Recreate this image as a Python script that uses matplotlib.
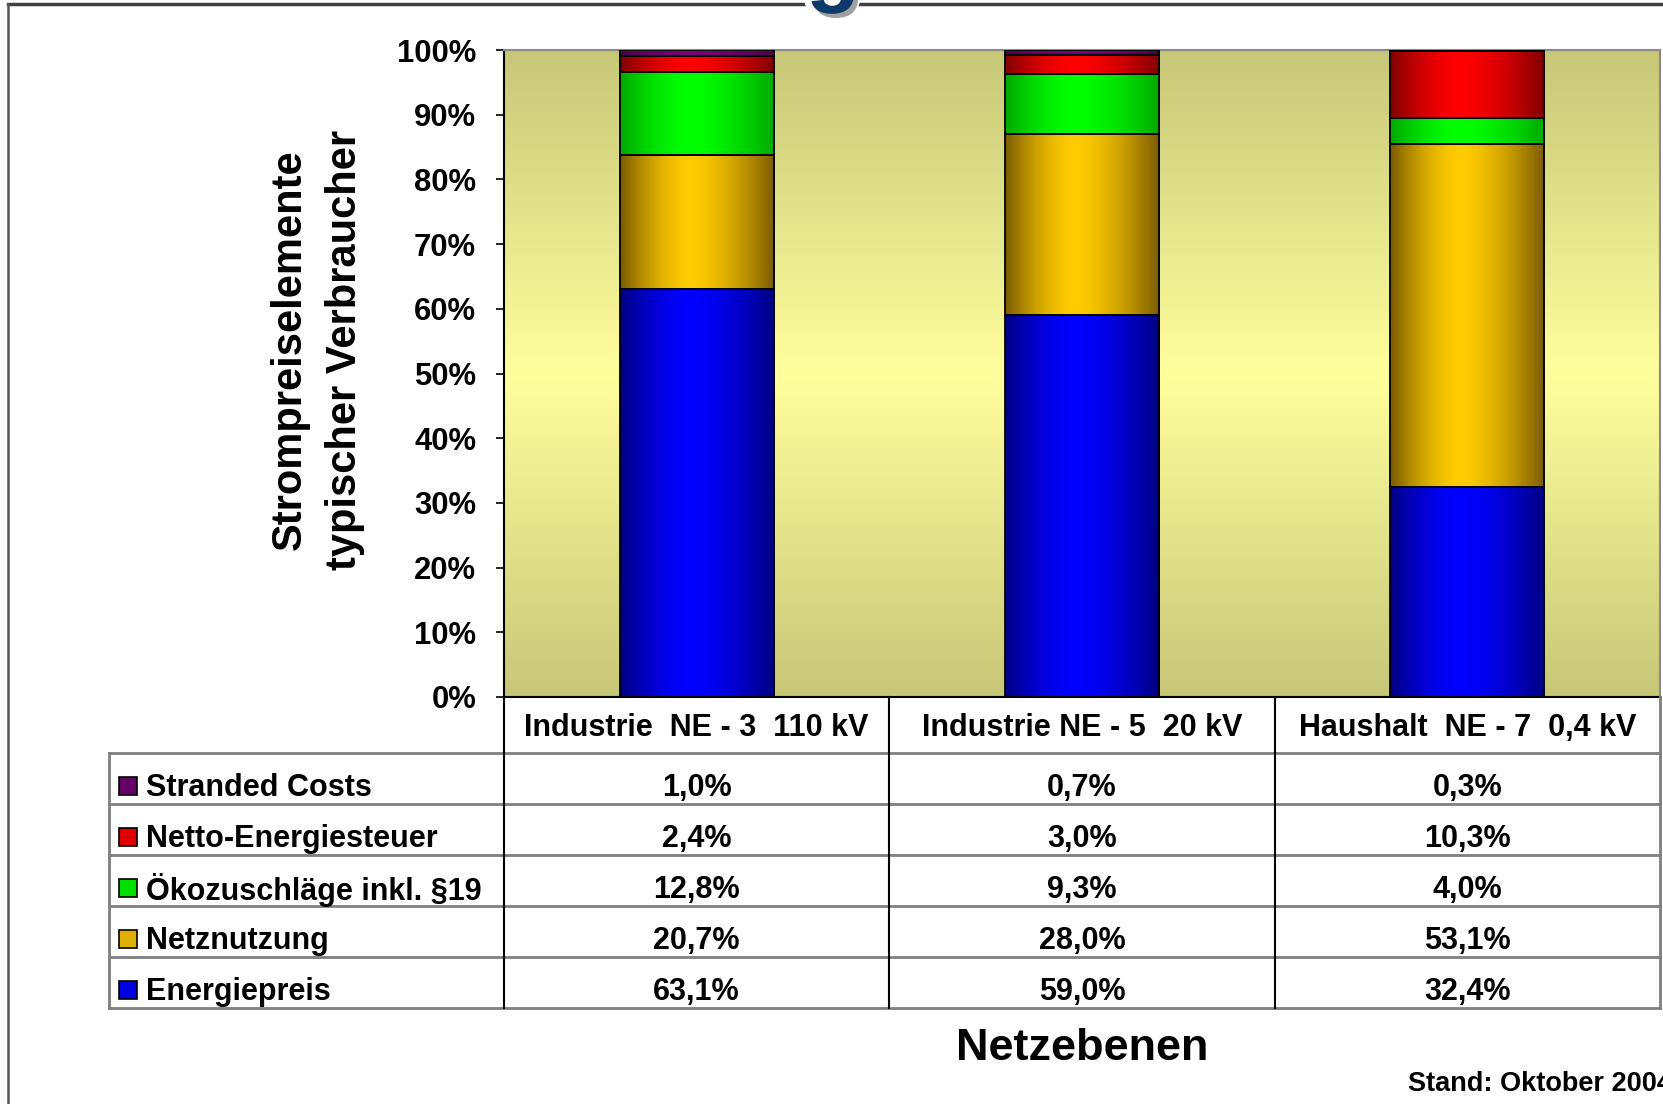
import numpy as np
import matplotlib
matplotlib.use("Agg")
import matplotlib.pyplot as plt
import matplotlib.patheffects as pe
from matplotlib.lines import Line2D
from matplotlib.colors import to_rgb

plt.rcParams['font.family'] = ['Liberation Sans', 'DejaVu Sans']
plt.rcParams['font.weight'] = 'bold'

categories = ["Industrie  NE - 3  110 kV", "Industrie NE - 5  20 kV", "Haushalt  NE - 7  0,4 kV"]
series_names = ["Energiepreis", "Netznutzung", "Ökozuschläge inkl. §19",
                "Netto-Energiesteuer", "Stranded Costs"]
energiepreis = [63.1, 59.0, 32.4]
netznutzung = [20.7, 28.0, 53.1]
oekozuschlaege = [12.8, 9.3, 4.0]
energiesteuer = [2.4, 3.0, 10.3]
stranded = [1.0, 0.7, 0.3]
series = [energiepreis, netznutzung, oekozuschlaege, energiesteuer, stranded]
yticks = list(range(0, 101, 10))

# (dark edge, bright centre) for the bar shading
shades = [("#000080", "#0000ff"),
          ("#7a5a00", "#ffcc00"),
          ("#00a800", "#00ff00"),
          ("#800000", "#ff0000"),
          ("#4a004a", "#7a007a")]
swatch = ["#0000e0", "#e0b000", "#00e000", "#e00000", "#660066"]

W, H = 1663, 1104
def fx(px): return px / W
def fy(py): return 1 - py / H

fig = plt.figure(figsize=(W / 100, H / 100), dpi=100)

# slide frame
fig.add_artist(Line2D([fx(8), 1], [fy(4), fy(4)], color="#404040", lw=2.5, zorder=1))
fig.add_artist(Line2D([fx(8), fx(8)], [fy(4), 0], color="#555555", lw=1.8, zorder=1))
# bottom of the cut-off title glyph
fig.text(fx(833), fy(-5), "g", fontsize=64, color="#0d3a6a", ha="center", va="baseline",
         path_effects=[pe.Stroke(linewidth=10, foreground="white"),
                       pe.SimplePatchShadow(offset=(3, -3), shadow_rgbFace="#a0a0a0", alpha=1),
                       pe.Normal()], zorder=5)

left, right, top, bottom = 504, 1660, 50, 697
ax = fig.add_axes([fx(left), fy(bottom), (right - left) / W, (bottom - top) / H])

# background gradient olive -> light yellow -> olive
t = np.linspace(0, 1, 300)
k = 1 - np.abs(2 * t - 1)
c0 = np.array([0.78, 0.78, 0.47])
c1 = np.array([1.0, 1.0, 0.62])
bg = c0[None, :] + (c1 - c0)[None, :] * k[:, None]
ax.imshow(bg[:, None, :], extent=(-0.5, 2.5, 0, 100), aspect="auto", zorder=0)

x = np.arange(len(categories))
base = np.zeros(len(categories))
s = np.linspace(0, 1, 200)
d = np.where(s < 0.45, (0.45 - s) / 0.45, (s - 0.45) / 0.55)
wgt = 1 - d ** 1.6
for vals, (dk, br) in zip(series, shades):
    bars = ax.bar(x, vals, 0.40, bottom=base, facecolor="none", edgecolor="black",
                  linewidth=1.3, zorder=3)
    a, b = np.array(to_rgb(dk)), np.array(to_rgb(br))
    img = a[None, :] + (b - a)[None, :] * wgt[:, None]
    for p in bars.patches:
        x0, y0 = p.get_x(), p.get_y()
        ax.imshow(img[None, :, :], extent=(x0, x0 + p.get_width(), y0, y0 + p.get_height()),
                  aspect="auto", zorder=2, interpolation="bilinear")
    base = base + np.array(vals)

ax.set_xlim(-0.5, 2.5)
ax.set_ylim(0, 100)
ax.set_xticks([])
ax.set_yticks(yticks)
ax.set_yticklabels([f"{v}%" for v in yticks])
ax.tick_params(axis="y", length=6, width=1.2, pad=14, labelsize=22.3)
ax.spines["left"].set_color("black")
ax.spines["bottom"].set_color("black")
ax.spines["top"].set_color("#8a8a8a")
ax.spines["right"].set_color("#8a8a8a")
for sp in ax.spines.values():
    sp.set_linewidth(1.5)

# y label
fig.text(fx(290), fy(350), "Strompreiselemente", rotation=90, fontsize=30,
         ha="center", va="center")
fig.text(fx(345), fy(350), "typischer Verbraucher", rotation=90, fontsize=30,
         ha="center", va="center")

# data table with legend
ppu = (right - left) / 3.0
tl = 109
tax = fig.add_axes([fx(tl), fy(1008), (right - tl) / W, (1008 - bottom) / H])
xl = -0.5 - (left - tl) / ppu
hdr = 56 / 51.0
tax.set_xlim(xl, 2.5)
tax.set_ylim(5, -hdr)
tax.axis("off")
for r in range(6):
    tax.plot([xl, 2.5], [r, r], color="#7f7f7f", lw=2, clip_on=False)
tax.plot([xl, xl], [0, 5], color="#7f7f7f", lw=2, clip_on=False)
tax.plot([2.5, 2.5], [-hdr, 5], color="#7f7f7f", lw=2, clip_on=False)
for xv in [-0.5, 0.5, 1.5]:
    tax.plot([xv, xv], [-hdr, 5], color="black", lw=1.5, clip_on=False)

for i, cat in enumerate(categories):
    tax.text(i, -hdr / 2 + 0.06, cat, ha="center", va="center", fontsize=22)

order = list(range(len(series)))[::-1]
for row, si in enumerate(order):
    yc = row + 0.69
    tax.plot([xl + (128 - tl) / ppu], [yc - 0.04], marker="s", markersize=12.5,
             markerfacecolor=swatch[si], markeredgecolor="black", markeredgewidth=1.2,
             clip_on=False)
    tax.text(xl + (146 - tl) / ppu, yc, series_names[si], ha="left", va="center", fontsize=22)
    for i, v in enumerate(series[si]):
        tax.text(i, yc, f"{v:.1f}".replace(".", ",") + "%", ha="center", va="center",
                 fontsize=22)

fig.text(fx(1082), fy(1048), "Netzebenen", ha="center", va="center", fontsize=32.5)
fig.text(fx(1408), fy(1091), "Stand: Oktober 2004", ha="left", va="baseline", fontsize=19.5)

fig.savefig("out.png", dpi=100)
